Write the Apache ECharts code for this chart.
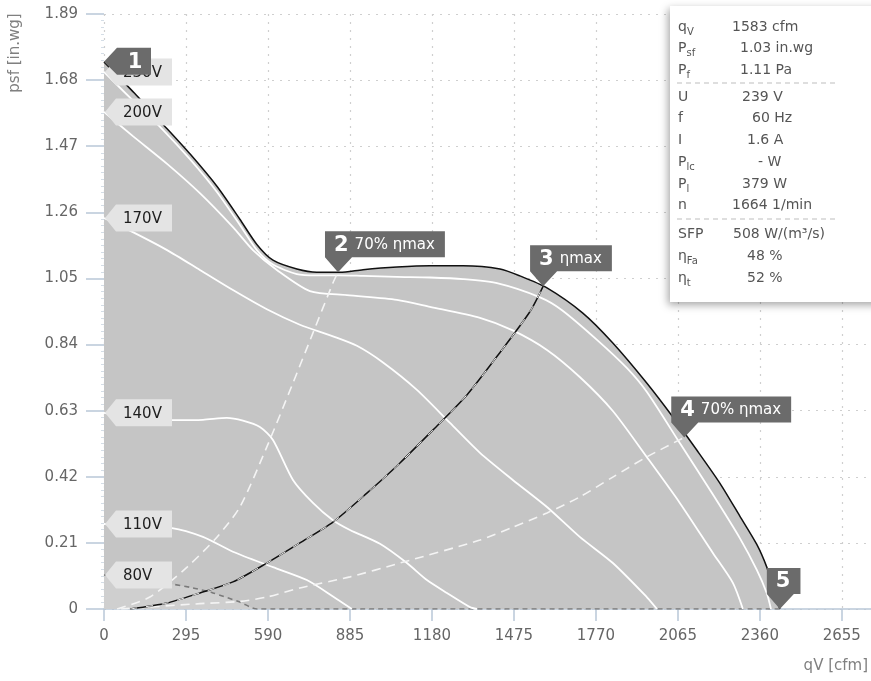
<!DOCTYPE html>
<html>
<head>
<meta charset="utf-8">
<script src="https://cdn.jsdelivr.net/npm/echarts@6/dist/echarts.min.js"></script>
<style>
html,body{margin:0;padding:0;background:#fff;}
#chart{width:871px;height:681px;}
</style>
</head>
<body>
<div id="chart"></div>
<script>
// ---------- data ----------
const xTicks = [0, 295, 590, 885, 1180, 1475, 1770, 2065, 2360, 2655];
const yTicks = [0, 0.21, 0.42, 0.63, 0.84, 1.05, 1.26, 1.47, 1.68, 1.89];

const envelope = [[0,1.738],[110,1.638],[212,1.540],[310,1.445],[407,1.342],[489,1.238],[550,1.158],[608,1.108],[694,1.080],[766,1.070],[849,1.070],[932,1.078],[1054,1.086],[1173,1.090],[1292,1.090],[1425,1.080],[1497,1.058],[1594,1.020],[1723,0.940],[1831,0.845],[1953,0.718],[2047,0.610],[2133,0.505],[2216,0.400],[2288,0.295],[2349,0.205],[2385,0.133],[2407,0.070],[2432,0]];

const v230 = [[0,1.706],[110,1.610],[212,1.522],[310,1.428],[407,1.324],[489,1.220],[550,1.140],[608,1.094],[694,1.064],[766,1.060],[849,1.060],[932,1.058],[1054,1.055],[1173,1.053],[1292,1.048],[1414,1.035],[1569,0.990],[1647,0.950],[1774,0.855],[1882,0.765],[1953,0.690],[2072,0.527],[2190,0.365],[2288,0.225],[2349,0.124],[2385,0.050],[2400,0]];
const v200 = [[0,1.579],[104,1.502],[227,1.414],[345,1.321],[464,1.213],[536,1.140],[622,1.077],[741,1.010],[874,0.997],[1054,0.982],[1173,0.960],[1353,0.925],[1471,0.885],[1594,0.823],[1712,0.737],[1831,0.629],[1953,0.483],[2072,0.337],[2191,0.178],[2263,0.083],[2299,0]];
const v170 = [[0,1.242],[104,1.197],[227,1.140],[345,1.077],[464,1.013],[586,0.952],[705,0.903],[824,0.866],[910,0.836],[1004,0.783],[1126,0.696],[1245,0.591],[1353,0.496],[1471,0.410],[1594,0.324],[1712,0.229],[1831,0.146],[1953,0.038],[1990,0]];
const v140 = [[0,0.623],[245,0.600],[356,0.601],[442,0.607],[500,0.598],[561,0.578],[608,0.537],[680,0.410],[752,0.337],[824,0.282],[885,0.251],[993,0.207],[1090,0.146],[1162,0.092],[1234,0.051],[1317,0.006],[1342,0]];
const v110 = [[0,0.270],[245,0.257],[356,0.229],[464,0.182],[608,0.133],[730,0.092],[824,0.040],[892,0]];
const v80  = [[0,0.108],[245,0.079],[320,0.067],[392,0.051],[489,0.022],[550,0],[2432,0]];

const eta70Left  = [[47,0],[165,0.038],[299,0.133],[407,0.229],[489,0.324],[586,0.515],[680,0.718],[752,0.877],[824,1.036],[842,1.070]];
const etaMax     = [[94,0],[227,0.019],[345,0.051],[464,0.086],[586,0.146],[705,0.210],[824,0.276],[946,0.368],[1065,0.464],[1184,0.569],[1306,0.680],[1425,0.815],[1533,0.945],[1580,1.025]];
const eta70Right = [[60,0],[345,0.017],[489,0.024],[586,0.038],[705,0.067],[885,0.102],[1065,0.146],[1353,0.219],[1471,0.260],[1594,0.305],[1712,0.356],[1831,0.419],[1953,0.483],[2088,0.545]];

const voltNames = ['230V','200V','170V','140V','110V','80V'];
const voltStartY = [1.706, 1.579, 1.242, 0.623, 0.270, 0.108];

const markerX = [0, 842, 1580, 2088, 2432];
const markerY = [1.738, 1.070, 1.025, 0.545, 0];
const markerNum = ['1','2','3','4','5'];
const markerText = ['', '70% ηmax', 'ηmax', '70% ηmax', ''];

const infoSym = ['q','P','P','U','f','I','P','P','n','SFP','η','η'];
const infoSub = ['V','sf','f','','','','lc','l','','','Fa','t'];
const infoVal = ['1583 cfm','1.03 in.wg','1.11 Pa','239 V','60 Hz','1.6 A','- W','379 W','1664 1/min','508 W/(m³/s)','48 %','52 %'];

// ---------- layout / helpers ----------
const FONT = 'DejaVu Sans';
const cv = document.createElement('canvas').getContext('2d');
function tw(txt, size, weight) { cv.font = (weight||'normal') + ' ' + size + 'px "' + FONT + '"'; return cv.measureText(txt).width; }

function renderVolt(params, api) {
  const i = api.value(2);
  const p = api.coord([api.value(0), api.value(1)]);
  const h = 13.5;
  return {
    type: 'group',
    children: [
      { type: 'polygon', shape: { points: [[p[0]+1,p[1]],[p[0]+12,p[1]-h],[p[0]+68,p[1]-h],[p[0]+68,p[1]+h],[p[0]+12,p[1]+h]] },
        style: { fill: '#e4e4e4' } },
      { type: 'text', style: { x: p[0]+19, y: p[1]+1, text: voltNames[i], fill: '#1e1e1e', font: '15px "' + FONT + '"', verticalAlign: 'middle', align: 'left' } }
    ]
  };
}

function renderCallout(params, api) {
  const i = api.value(2);
  const p = api.coord([api.value(0), api.value(1)]);
  const num = markerNum[i], txt = markerText[i];
  const fill = '#6b6b6b';
  if (i === 0) {
    const L = p[0] + 13, T = p[1] - 14, B = p[1] + 13, R = p[0] + 47;
    return { type: 'group', children: [
      { type: 'polygon', shape: { points: [[p[0],p[1]],[L,T],[R,T],[R,B],[L,B]] }, style: { fill: fill } },
      { type: 'text', style: { x: (L+R)/2 + 1, y: (T+B)/2 + 1, text: num, fill: '#fff', font: 'bold 21px "' + FONT + '"', align: 'center', verticalAlign: 'middle' } }
    ]};
  }
  const nw = tw(num, 21, 'bold');
  const txw = txt ? tw(txt, 15) + 6 : 0;
  const w = 9 + nw + txw + 10;
  const L = p[0] - 13, B = p[1] - 15, T = B - 26, R = L + w;
  const children = [
    { type: 'polygon', shape: { points: [[L,T],[R,T],[R,B],[p[0]+14,B],[p[0],p[1]],[L,B]] }, style: { fill: fill } },
    { type: 'text', style: { x: L + 9, y: (T+B)/2 + 1, text: num, fill: '#fff', font: 'bold 21px "' + FONT + '"', align: 'left', verticalAlign: 'middle' } }
  ];
  if (txt) children.push({ type: 'text', style: { x: L + 9 + nw + 6, y: (T+B)/2 + 1, text: txt, fill: '#fff', font: '15px "' + FONT + '"', align: 'left', verticalAlign: 'middle' } });
  return { type: 'group', children: children };
}

function lineSeries(data, color, width, type, z) {
  return { type: 'line', data: data, symbol: 'none', smooth: 0.25, silent: true, z: z || 3,
    lineStyle: { color: color, width: width, type: type || 'solid' } };
}

// info box graphic
const infoRowY = [27, 48, 70, 97, 118, 140, 162, 184, 205, 234, 256, 278];
const infoValX = [732, 740, 740, 742, 752, 747, 758, 742, 732, 733, 747, 747];
const infoG = [{
  type: 'rect', shape: { x: 670, y: 6, width: 215, height: 296 },
  style: { fill: '#fff', shadowBlur: 8, shadowColor: 'rgba(0,0,0,0.35)', shadowOffsetX: -2, shadowOffsetY: 3 }, z: 100
}];
infoSym.forEach((s, i) => {
  const y = infoRowY[i];
  infoG.push({ type: 'text', z: 101, style: { x: 678, y: y, text: s, fill: '#555', font: '14px "' + FONT + '"', verticalAlign: 'middle' } });
  if (infoSub[i]) infoG.push({ type: 'text', z: 101, style: { x: 678 + tw(s, 14), y: y + 5, text: infoSub[i], fill: '#555', font: '10px "' + FONT + '"', verticalAlign: 'middle' } });
  infoG.push({ type: 'text', z: 101, style: { x: infoValX[i], y: y, text: infoVal[i], fill: '#555', font: '14px "' + FONT + '"', verticalAlign: 'middle' } });
});
[83, 219].forEach(y => infoG.push({ type: 'line', z: 101, shape: { x1: 677, y1: y, x2: 838, y2: y }, style: { stroke: '#bdbdbd', lineWidth: 1, lineDash: [5, 4] } }));
infoG.push({ type: 'text', z: 50, rotation: Math.PI/2, x: 15, y: 53, style: { x: 0, y: 0, text: 'psf [in.wg]', fill: '#808080', font: '15px "' + FONT + '"', align: 'center', verticalAlign: 'middle' } });
infoG.push({ type: 'text', z: 50, style: { x: 868, y: 666, text: 'qV [cfm]', fill: '#808080', font: '15px "' + FONT + '"', align: 'right', verticalAlign: 'middle' } });

const chart = echarts.init(document.getElementById('chart'), null, { renderer: 'canvas' });
const s80 = lineSeries(v80, '#7a7a7a', 1.6, [5, 4]);
s80.areaStyle = { color: '#cfcfcf', opacity: 1 };
s80.z = 2.5;
chart.setOption({
  animation: false,
  backgroundColor: '#fff',
  grid: { left: 104, top: 14, right: 0, bottom: 72, containLabel: false },
  xAxis: {
    type: 'value', min: 0, max: 2760, interval: 295,
    axisLine: { show: true, lineStyle: { color: '#b9c8d7', width: 1.5 } },
    axisTick: { show: true, length: 12, lineStyle: { color: '#b9c8d7', width: 1.5 }, customValues: xTicks },
    axisLabel: { color: '#666', fontFamily: FONT, fontSize: 15, margin: 20, customValues: xTicks, formatter: v => String(v) },
    splitLine: { show: true, lineStyle: { color: '#cfcfcf', width: 1.2, type: [2, 6] } }
  },
  yAxis: {
    type: 'value', min: 0, max: 1.89, interval: 0.21,
    axisLine: { show: false },
    axisTick: { show: true, length: 18, lineStyle: { color: '#b9c8d7', width: 1.5 } },
    minorTick: { show: true, splitNumber: 10, length: 3, lineStyle: { color: '#d4dde6', width: 1 } },
    axisLabel: { color: '#666', fontFamily: FONT, fontSize: 15, margin: 26, formatter: v => v === 0 ? '0' : v.toFixed(2) },
    splitLine: { show: true, lineStyle: { color: '#cfcfcf', width: 1.2, type: [2, 6] } }
  },
  graphic: infoG,
  series: [
    { type: 'line', data: envelope, symbol: 'none', smooth: 0.25, silent: true, z: 2,
      lineStyle: { color: '#111', width: 1.5 }, areaStyle: { color: '#c5c5c5', opacity: 1 } },
    s80,
    lineSeries(v230, '#fff', 1.8),
    lineSeries(v200, '#fff', 1.8),
    lineSeries(v170, '#fff', 1.8),
    lineSeries(v140, '#fff', 1.8),
    lineSeries(v110, '#fff', 1.8),
    lineSeries(eta70Left, '#f4f4f4', 1.6, [9, 6], 4),
    lineSeries(eta70Right, '#f4f4f4', 1.6, [9, 6], 4),
    lineSeries(etaMax, '#111', 1.5, 'solid', 4),
    lineSeries(etaMax, '#eeeeee', 1.0, [7, 9], 5),
    { type: 'custom', renderItem: renderVolt, clip: false, silent: true, z: 8,
      data: voltStartY.map((y, i) => [0, y, i]), encode: { x: 0, y: 1 } },
    { type: 'custom', renderItem: renderCallout, clip: false, silent: true, z: 9,
      data: markerX.map((x, i) => [x, markerY[i], i]), encode: { x: 0, y: 1 } }
  ]
});
</script>
</body>
</html>
